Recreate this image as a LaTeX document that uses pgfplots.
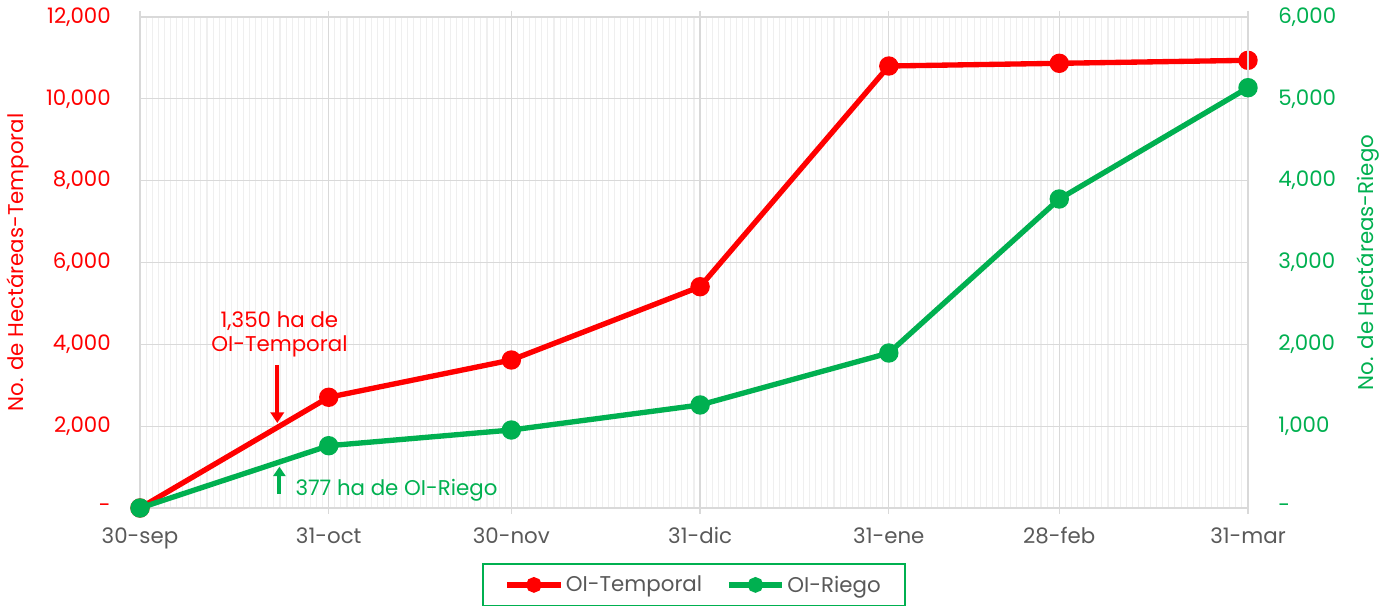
\documentclass[border=0pt]{standalone}
\usepackage{fontspec}
\setmainfont{Poppins}
\usepackage{pgfplots}
\pgfplotsset{compat=1.18}
\usetikzlibrary{arrows.meta}
\definecolor{cred}{HTML}{FF0000}
\definecolor{cgreen}{HTML}{00B050}
\definecolor{cgray}{HTML}{595959}
\definecolor{cgrid}{HTML}{D9D9D9}
\definecolor{cminor}{HTML}{EFEFEF}
\newcommand{\fs}{\fontsize{16}{19}\selectfont}
\begin{document}
\begin{tikzpicture}
\useasboundingbox (0,0) rectangle (1039.5pt,454.5pt);
\pgfplotsset{
 base/.style={scale only axis, width=831pt, height=368.25pt, at={(105pt,73.5pt)}, anchor=south west,
  xmin=0, xmax=182, clip=false, axis line style={cgrid, line width=0.9pt},
  scaled ticks=false,
  tick label style={font=\fs},
  ytick style={draw=none}, minor tick length=0pt,
 },
 legend image code/.code={\draw[mark repeat=2,mark phase=2,#1, mark size=3.8pt] plot coordinates {(0pt,0pt)(20pt,0pt)(40pt,0pt)};},
}
\begin{axis}[base,
 ymin=0, ymax=12000,
 xtick={0,31,61,92,123,151,182},
 xticklabels={30-sep,31-oct,30-nov,31-dic,31-ene,28-feb,31-mar},
 minor xtick={0,1,...,182},
 xmajorgrids, xminorgrids, ymajorgrids,
 major grid style={cgrid, line width=0.9pt},
 minor grid style={cminor, line width=0.8pt},
 xtick align=outside, major tick length=4.5pt,
 xtick style={cgrid, line width=0.9pt},
 xticklabel style={text=cgray, inner sep=0pt, yshift=-10pt},
 ytick={0,2000,...,12000},
 yticklabels={-\hspace{0.55em},{2,000},{4,000},{6,000},{8,000},{10,000},{12,000}},
 yticklabel style={text=cred, inner sep=0pt, xshift=-21.75pt},
 legend style={at={(0.5,-0.112)}, anchor=north, draw=cgreen, line width=1.2pt, legend columns=2,
   font=\fs, text=cgray, inner xsep=16pt, inner ysep=7pt,
   /tikz/every even column/.append style={column sep=16pt}},
]
\addplot[cred, line width=4pt, mark=*, mark size=5.25pt] coordinates {
 (0,0) (31,2706) (61,3617) (92,5408) (123,10802) (151,10868) (182,10941)};
\addlegendentry{OI-Temporal}
\addlegendimage{cgreen, line width=4pt, mark=*, mark size=5.25pt}
\addlegendentry{OI-Riego}
\node[rotate=90, text=cred, font=\fs] at ([xshift=-91.5pt]rel axis cs:0,0.5) {No. de Hectáreas-Temporal};
\node[text=cred, font=\fs, align=center, inner sep=0pt] at (axis cs:22.9,4240) {1,350 ha de\\[-1pt]OI-Temporal};
\draw[cred, line width=3pt, -{Triangle[width=10pt,length=8pt]}] (axis cs:22.55,3495) -- (axis cs:22.55,2077);
\draw[cgreen, line width=3pt, -{Triangle[width=9pt,length=7pt]}] (axis cs:22.9,342) -- (axis cs:22.9,1009);
\node[text=cgreen, font=\fs, anchor=west, inner sep=0pt] at (axis cs:25.5,440) {377 ha de OI-Riego};
\end{axis}
\begin{axis}[base,
 axis x line=none, axis y line*=right,
 ymin=0, ymax=6000,
 ytick={0,1000,...,6000},
 yticklabels={-,{1,000},{2,000},{3,000},{4,000},{5,000},{6,000}},
 yticklabel style={text=cgreen, inner sep=0pt, xshift=22.5pt},
]
\addplot[cgreen, line width=4pt, mark=*, mark size=5.25pt] coordinates {
 (0,0) (31,761) (61,953) (92,1259) (123,1894) (151,3776) (182,5136)};
\node[rotate=90, text=cgreen, font=\fs] at ([xshift=90pt]rel axis cs:1,0.5) {No. de Hectáreas-Riego};
\end{axis}
\end{tikzpicture}
\end{document}
